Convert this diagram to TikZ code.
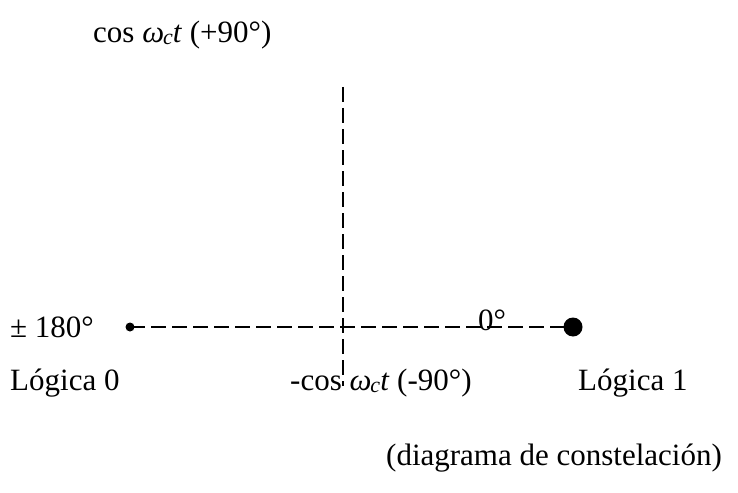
\documentclass[tikz,border=0pt]{standalone}
\usepackage{fontspec}
\setmainfont{Liberation Serif}
\newcommand{\omc}{\textit{ω\kern-1pt\raisebox{-0.15ex}{\fontsize{22}{24}\selectfont c}t}}
\begin{document}
\begin{tikzpicture}[x=1pt,y=-1pt,
  lbl/.style={font=\fontsize{31}{34}\selectfont, inner sep=0pt, anchor=west},
  axis/.style={line width=2.2pt, dash pattern=on 15pt off 6pt}]
\useasboundingbox (0,0) rectangle (738,492);
\coordinate (top) at (343,87);
\coordinate (bot) at (343,386);
\node[circle, fill=black, inner sep=0pt, minimum size=9pt] (p0) at (130,327) {};
\node[circle, fill=black, inner sep=0pt, minimum size=19pt] (p1) at (573,327) {};
\draw[axis] (top) -- (bot);
\draw[axis] (p0.center) -- (p1.center);
\node[lbl] (cosp) at (93,35) {cos \omc{} (+90°)};
\node[lbl] (pm) at (10,327) {± 180°};
\node[lbl] (zero) at (478,320) {0°};
\node[lbl] (l0) at (10,383) {Lógica 0};
\node[lbl] (cosm) at (290,383) {-cos \omc{} (-90°)};
\node[lbl] (l1) at (578,383) {Lógica 1};
\node[lbl] (cap) at (386,458) {(diagrama de constelación)};
\end{tikzpicture}
\end{document}
